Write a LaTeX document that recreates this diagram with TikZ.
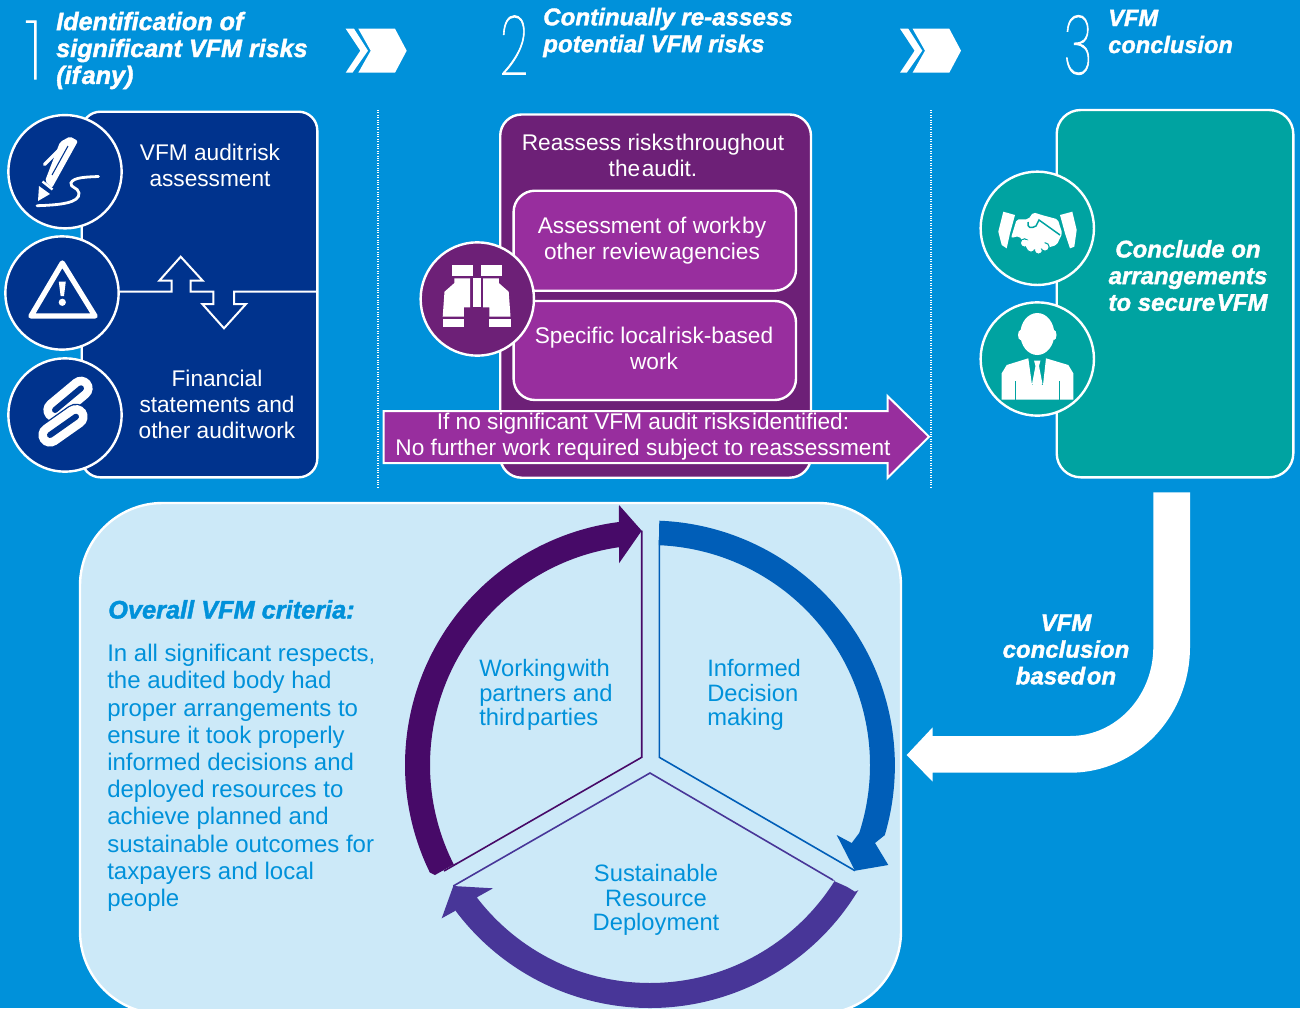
\documentclass[tikz,border=0pt]{standalone}
\usepackage{fontspec}
\usepackage{graphicx}
\setmainfont[BoldItalicFeatures={FakeBold=1.6}]{Liberation Sans}
\newfontfamily\thinfont[FakeBold=1.2]{Poppins Thin}
\definecolor{bgblue}{HTML}{0091DA}
\definecolor{navy}{HTML}{00338D}
\definecolor{dkpurple}{HTML}{6D2077}
\definecolor{midpurple}{HTML}{982E9E}
\definecolor{teal}{HTML}{00A3A1}
\definecolor{pale}{HTML}{CCE9F8}
\definecolor{cycblue}{HTML}{005EB8}
\definecolor{cycviolet}{HTML}{483698}
\definecolor{cycplum}{HTML}{470A68}
\newcommand{\tsp}{\hspace{0.07em}}
\newcommand{\bodysize}{\fontsize{17}{19.5}\selectfont}
\newcommand{\headfont}[1]{\fontsize{#1}{20.2}\selectfont\bfseries\itshape}
\tikzset{
  panel/.style={draw=white,line width=1.8pt,rounded corners=#1},
  disc/.style={circle,draw=white,line width=1.8pt,minimum size=85pt,inner sep=0pt},
  wlabel/.style={text=white,align=center,font=\bodysize,inner sep=0pt},
  hlabel/.style={text=white,align=left,anchor=west,font=\headfont{#1},inner sep=0pt},
  clabel/.style={text=bgblue,font=\fontsize{17.8}{18.4}\selectfont,inner sep=0pt},
  biglabel/.style={text=white,align=center,font=\fontsize{18}{20}\selectfont\bfseries\itshape,inner sep=0pt},
  numeral/.style={text=white,inner sep=0pt,font=\fontsize{62}{62}\thinfont},
  sepline/.style={white,line width=0.8pt,densely dotted},
  thinedge/.style={line width=1.2pt,line join=miter},
}
\begin{document}
\begin{tikzpicture}[x=0.75pt,y=-0.75pt]
\useasboundingbox (0,0) rectangle (1300,1008);
\clip (0,0) rectangle (1300,1008);
\fill[bgblue] (0,0) rectangle (1300,1008);
\coordinate (C) at (650,765);

% headers
\node[numeral] (n1) at (34,50) {\scalebox{0.95}[1]{1}};
\node[numeral] (n2) at (514,45) {\scalebox{0.6}[1]{2}};
\node[numeral] (n3) at (1078,45) {\scalebox{0.6}[1]{3}};
\node[hlabel=18.85] (h1) at (56,50.5) {Identification of\\significant VFM risks\\(if\tsp any)};
\node[hlabel=18.1] (h2) at (543,32.5) {Continually re-assess\\potential VFM risks};
\node[hlabel=17.7] (h3) at (1108,31.5) {VFM\\conclusion};

% chevrons
\foreach \dx in {0,554.3}{
  \fill[white,xshift=\dx*0.75pt] (345.7,28.7) -- (354,28.7) -- (368,50.7) -- (352.5,72.7) -- (345.7,72.7) -- (360.3,50.7) -- cycle;
  \fill[white,xshift=\dx*0.75pt] (358.3,28.7) -- (395,28.7) -- (406.7,50.7) -- (395,72.7) -- (358.3,72.7) -- (370.7,50.7) -- cycle;
}

% dotted separators
\coordinate (s1a) at (378,110); \coordinate (s1b) at (378,488);
\coordinate (s2a) at (931,110); \coordinate (s2b) at (931,488);
\draw[sepline] (s1a) -- (s1b);
\draw[sepline] (s2a) -- (s2b);

% panel 1
\draw[panel=14pt,fill=navy] (81.7,111.7) rectangle (317.3,477.3);
\draw[white,line width=1.5pt,line join=miter] (120,291.7) -- (171.7,291.7) -- (171.7,280.7) -- (159.3,280.7) -- (180.7,256.7) -- (202.7,280.7) -- (190.7,280.7) -- (190.7,291.7) -- (213.3,291.7) -- (213.3,304) -- (202.3,304) -- (224,328.3) -- (246,304) -- (234,304) -- (234,291.7) -- (317,291.7);
\node[wlabel] (t1a) at (210,165.5) {VFM audit\tsp risk\\assessment};
\node[wlabel] (t1b) at (217,404.5) {Financial\\statements and\\other audit\tsp work};
\node[disc,fill=navy] (d1) at (65,171.7) {};
\node[disc,fill=navy] (d2) at (62,293) {};
\node[disc,fill=navy] (d3) at (65,415) {};
% pen icon
\fill[white] (38,201) -- (39,186) -- (50,194) -- cycle;
\draw[white,line width=1.8pt] (42.5,181.5) -- (52.5,189.5);
\fill[white,rounded corners=1.5pt] (45,181) -- (60,142) -- (70,136.5) -- (78,141) -- (52,188) -- cycle;
\draw[navy,line width=0.8pt] (52,175) -- (68,146);
\draw[white,line width=2.4pt,line cap=round] (44.5,164.5) -- (59,150);
\draw[white,line width=2.1pt,line cap=round] (37,205.7) .. controls (60,205) and (80,203) .. (79,193) .. controls (78,187) and (70,188) .. (71,183) .. controls (73,177) and (88,177) .. (98.5,176.5);
% warning icon
\draw[white,line width=4pt,line join=round] (62.3,263) -- (31,316) -- (95,316) -- cycle;
\fill[white] (58.8,281.5) -- (65.8,281.5) -- (64,296) -- (60.6,296) -- cycle;
\fill[white] (62.3,302.3) circle[radius=3.6];
% link icon
\coordinate (la) at (81,388.3); \coordinate (lb) at (55,410);
\coordinate (lc) at (50,435); \coordinate (ld) at (76,416.7);
\draw[white,line width=17.5pt,line cap=round] (la) -- (lb);
\draw[navy,line width=4.5pt,line cap=round] (la) -- (lb);
\draw[navy,line width=19.5pt,line cap=round] (lc) -- (ld);
\draw[white,line width=17.5pt,line cap=round] (lc) -- (ld);
\draw[navy,line width=4.5pt,line cap=round] (lc) -- (ld);

% panel 2
\draw[panel=16pt,fill=dkpurple] (500.2,114.5) rectangle (811,477.7);
\node[wlabel] (t2a) at (653,155.5) {Reassess risks\tsp throughout\\the\tsp audit.};
\draw[panel=16pt,fill=midpurple] (513.6,190.7) rectangle (796,290.7);
\draw[panel=16pt,fill=midpurple] (513.6,301) rectangle (796,400);
\node[wlabel] (t2b) at (652,240.5) {Assessment of work\tsp by\\other review\tsp agencies};
\node[wlabel] (t2c) at (654,348.5) {Specific local\tsp risk-based\\work};
\node[disc,fill=dkpurple] (d4) at (477.3,299) {};
% binoculars icon
\fill[white] (451.8,265) rectangle (472.9,275.7);
\fill[white] (480.9,265) rectangle (501.6,275.7);
\fill[white] (454.4,278.3) -- (470,278.3) -- (470,307.3) -- (463.8,307.3) -- (463.8,316.7) -- (442.7,316.7) -- (444.5,291.7) -- (454.4,283) -- cycle;
\fill[white] (498.8,278.3) -- (483.2,278.3) -- (483.2,307.3) -- (489.4,307.3) -- (489.4,316.7) -- (510.5,316.7) -- (508.7,291.7) -- (498.8,283) -- cycle;
\fill[white] (472.9,278.3) rectangle (481,307.3);
\fill[white] (442.7,319.3) rectangle (463.8,326.7);
\fill[white] (489.4,319.3) rectangle (510.5,326.7);
% long arrow
\draw[white,line width=1.5pt,fill=midpurple,line join=miter] (383.5,411) -- (887.5,411) -- (887.5,396) -- (929,436.7) -- (887.5,478) -- (887.5,463) -- (383.5,463) -- cycle;
\node[wlabel] (t2d) at (643,437) {If no significant VFM audit risks\tsp identified:\\No further work required subject to reassessment};

% panel 3
\draw[panel=18pt,fill=teal] (1056.7,110) rectangle (1293.3,477.3);
\node[biglabel] (t3) at (1188,275.5) {Conclude on\\arrangements\\to secure\tsp VFM};
\node[disc,fill=teal] (d5) at (1037.3,228.3) {};
\node[disc,fill=teal] (d6) at (1037.3,359) {};
% handshake icon
\fill[white] (1003.3,211.7) -- (1015,215) -- (1010,233.3) -- (1006.7,248.3) -- (1001.7,245) -- (998.3,231.7) -- cycle;
\fill[white] (1060,215) -- (1072.3,211.7) -- (1076.7,230) -- (1074.3,246.7) -- (1070,248.3) -- (1065,233.3) -- cycle;
\fill[white,rounded corners=1.5pt] (1016.7,219.3) -- (1028.3,219.3) -- (1033.3,212.3) -- (1041.7,215) -- (1057.7,219.3) -- (1062.3,233.3) -- (1056.7,245) -- (1040,250) -- (1027,247) -- (1019,236) -- (1011,238) -- cycle;
\draw[teal,line width=1.1pt] (1028,222) .. controls (1027,228) and (1031,229) .. (1036,226) -- (1039,220) -- (1060,235);
\foreach \px/\py in {1024.5/243,1031/248,1038.5/250,1045/247}{
  \draw[teal,line width=0.8pt,fill=white] (\px,\py) circle[radius=4.2];
}
\fill[white] (1022,240) -- (1044,241) -- (1046,248) -- (1028,250) -- cycle;
% person icon
\fill[white] (1037.3,334) ellipse[x radius=17,y radius=21];
\fill[white] (1020.5,335) ellipse[x radius=2.5,y radius=5];
\fill[white] (1054,335) ellipse[x radius=2.5,y radius=5];
\fill[white] (1001.7,399.5) -- (1001.7,373.3) -- (1006.7,365) -- (1028.3,358.3) -- (1032,385) -- (1043,385) -- (1046,358.3) -- (1068.3,365) -- (1073.3,373.3) -- (1073.3,399.5) -- cycle;
\fill[white] (1034,360.5) -- (1040.5,360.5) -- (1039,366) -- (1042.5,384) -- (1037.3,388) -- (1032,384) -- (1035.5,366) -- cycle;
\draw[teal,line width=0.7pt] (1015,381) -- (1015,400);
\draw[teal,line width=0.7pt] (1059,381) -- (1059,400);

% bent arrow
\fill[white] (1153.3,492.3) -- (1190,492.3) -- (1190,647) arc[start angle=0,end angle=90,x radius=120,y radius=125.7] -- (932.7,772.7) -- (932.7,781.7) -- (906.7,755) -- (932.7,727.3) -- (932.7,736) -- (1070,736) arc[start angle=90,end angle=0,x radius=83.3,y radius=89] -- cycle;
\node[biglabel] (t4) at (1066,649.5) {VFM\\conclusion\\based\tsp on};

% lower panel
\draw[panel=62pt,fill=pale] (80,503) rectangle (901,1014);
\node[anchor=base west,text=bgblue,inner sep=0pt,font=\fontsize{19}{20}\selectfont\bfseries\itshape] (t5) at (108,618.5) {Overall VFM criteria:};
\node[anchor=north west,text=bgblue,inner sep=0pt,align=left,font=\fontsize{18}{20.4}\selectfont] (t6) at (107,644) {In all significant respects,\\the audited body had\\proper arrangements to\\ensure it took properly\\informed decisions and\\deployed resources to\\achieve planned and\\sustainable outcomes for\\taxpayers and local\\people};

% cycle
\fill[cycblue] (659.3,520.7) arc[start angle=-87.8,end angle=16.5,radius=245] -- (875,843) -- (888.3,865) -- (855,870.7) -- (836.7,835) -- (851.7,843) -- ([shift={(C)}]18:220) arc[start angle=18,end angle=-87.7,radius=220] -- cycle;
\draw[cycblue,thinedge] (659.3,540) -- (659.3,757.3) -- (855,870.7);
\fill[cycplum] (435,875) -- ([shift={(C)}]154:245) arc[start angle=154,end angle=262.7,radius=245] -- (619,505) -- (641.7,530.7) -- (619,563.3) -- (619,547.3) -- ([shift={(C)}]261.9:220) arc[start angle=261.9,end angle=153,radius=220] -- (456.7,862.7) -- cycle;
\draw[cycplum,thinedge] (641.7,530.7) -- (641.7,757.3) -- (444,871);
\fill[cycviolet] (855,891.7) -- ([shift={(C)}]31:243) arc[start angle=31,end angle=143,radius=243] -- (456.7,910) -- (441.7,918.3) -- (453.3,886) -- (493,888.3) -- (478,896.7) -- ([shift={(C)}]142.6:218) arc[start angle=142.6,end angle=32,radius=218] -- (831.7,880) -- (846.7,886.7) -- cycle;
\draw[cycviolet,thinedge] (453.3,886) -- (650,773) -- (833,880);
\node[clabel,anchor=west,align=left] (t7) at (479,695) {Working\tsp with\\partners and\\third\tsp parties};
\node[clabel,anchor=west,align=left] (t8) at (707,695) {Informed\\Decision\\making};
\node[clabel,align=center] (t9) at (656,900) {Sustainable\\Resource\\Deployment};
\end{tikzpicture}
\end{document}
